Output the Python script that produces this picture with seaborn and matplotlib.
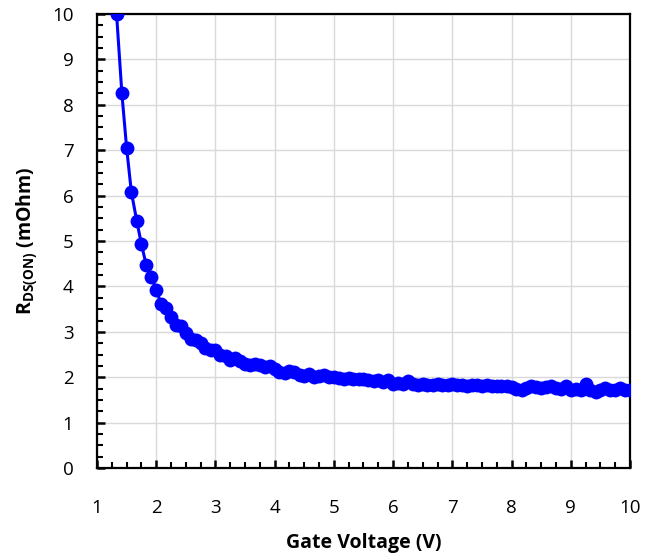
import seaborn as sns
import matplotlib.pyplot as plt
from matplotlib.ticker import MultipleLocator

# gate voltage sweep (V) and measured on-resistance (mOhm)
gate_voltage = [
    1.33, 1.42, 1.50, 1.58, 1.67, 1.75, 1.83, 1.92, 2.00, 2.08, 2.17, 2.25, 2.33, 2.42, 2.50,
    2.58, 2.67, 2.75, 2.83, 2.92, 3.00, 3.08, 3.17, 3.25, 3.33, 3.42, 3.50, 3.58, 3.67, 3.75,
    3.83, 3.92, 4.00, 4.08, 4.17, 4.25, 4.33, 4.42, 4.50, 4.58, 4.67, 4.75, 4.83, 4.92, 5.00,
    5.08, 5.17, 5.25, 5.33, 5.42, 5.50, 5.58, 5.67, 5.75, 5.83, 5.92, 6.00, 6.08, 6.17, 6.25,
    6.33, 6.42, 6.50, 6.58, 6.67, 6.75, 6.83, 6.92, 7.00, 7.08, 7.17, 7.25, 7.33, 7.42, 7.50,
    7.58, 7.67, 7.75, 7.83, 7.92, 8.00, 8.08, 8.17, 8.25, 8.33, 8.42, 8.50, 8.58, 8.67, 8.75,
    8.83, 8.92, 9.00, 9.08, 9.17, 9.25, 9.33, 9.42, 9.50, 9.58, 9.67, 9.75, 9.83, 9.92, 10.00,
]
rds_on = [
    10.0, 8.25, 7.05, 6.08, 5.45, 4.93, 4.48, 4.20, 3.93, 3.62, 3.52, 3.32, 3.15, 3.12, 2.98,
    2.85, 2.83, 2.75, 2.65, 2.60, 2.60, 2.50, 2.47, 2.38, 2.42, 2.35, 2.30, 2.28, 2.29, 2.28,
    2.22, 2.24, 2.18, 2.12, 2.10, 2.13, 2.11, 2.06, 2.02, 2.08, 2.00, 2.02, 2.04, 2.00, 2.01,
    1.98, 1.97, 1.98, 1.96, 1.97, 1.96, 1.93, 1.92, 1.93, 1.90, 1.93, 1.86, 1.87, 1.86, 1.92,
    1.86, 1.84, 1.85, 1.82, 1.83, 1.85, 1.82, 1.84, 1.85, 1.82, 1.83, 1.81, 1.84, 1.82, 1.80,
    1.84, 1.81, 1.80, 1.81, 1.80, 1.79, 1.75, 1.73, 1.76, 1.80, 1.78, 1.76, 1.79, 1.80, 1.77,
    1.74, 1.80, 1.73, 1.74, 1.72, 1.85, 1.72, 1.68, 1.71, 1.76, 1.73, 1.72, 1.76, 1.72, 1.71,
]

sns.set_style("white", {"xtick.bottom": True, "ytick.left": True,
                        "text.color": "black", "axes.labelcolor": "black",
                        "xtick.color": "black", "ytick.color": "black"})
plt.rcParams["font.family"] = ["Open Sans", "DejaVu Sans"]
plt.rcParams["mathtext.fontset"] = "custom"
plt.rcParams["mathtext.rm"] = "Open Sans"
plt.rcParams["mathtext.bf"] = "Open Sans:bold"

fig = plt.figure(figsize=(6.48, 5.56), dpi=100)
ax = fig.add_axes([0.1497, 0.158, 0.8225, 0.817])

sns.lineplot(x=gate_voltage, y=rds_on, ax=ax, color="#0000FF", linewidth=2.2,
             marker="o", markersize=10, markeredgewidth=0, sort=False, zorder=3)

ax.set_xlim(1, 10)
ax.set_ylim(0, 10)
ax.xaxis.set_major_locator(MultipleLocator(1))
ax.yaxis.set_major_locator(MultipleLocator(1))
ax.xaxis.set_minor_locator(MultipleLocator(0.25))
ax.yaxis.set_minor_locator(MultipleLocator(0.25))
ax.grid(True, which="major", color="#d9d9d9", linewidth=1)
ax.tick_params(which="major", direction="in", length=6, width=1.8, labelsize=13.5,
               color="black", labelcolor="black", bottom=True, left=True)
ax.tick_params(which="minor", direction="in", length=4, width=1.5,
               color="black", bottom=True, left=True)
ax.tick_params(axis="x", which="major", pad=22)
ax.tick_params(axis="y", which="major", pad=17)
for s in ax.spines.values():
    s.set_linewidth(1.6)
    s.set_color("black")

ax.set_xlabel("Gate Voltage (V)", fontsize=14, fontweight="bold", labelpad=12)
ax.set_ylabel(r"R$_{\mathbf{DS(ON)}}$ (mOhm)", fontsize=14, fontweight="bold", labelpad=8)

fig.savefig("out.png", dpi=100)
